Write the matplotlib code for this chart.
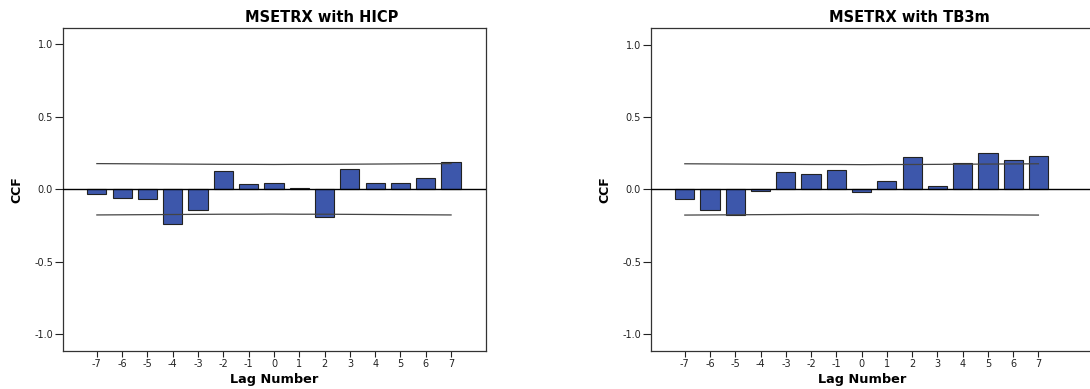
import numpy as np
import matplotlib
matplotlib.use("Agg")
import matplotlib.pyplot as plt

# lags shown on both panels
lags = list(range(-7, 8))

# cross-correlations
ccf_hicp = [-0.034, -0.057, -0.069, -0.237, -0.145, 0.126, 0.037, 0.041,
            0.009, -0.191, 0.138, 0.044, 0.041, 0.080, 0.191]
ccf_tb3m = [-0.067, -0.145, -0.175, -0.014, 0.120, 0.108, 0.133, -0.018,
            0.057, 0.223, 0.021, 0.179, 0.248, 0.202, 0.230]

# confidence limits (upper / lower) per lag
upper_limit = [0.177, 0.176, 0.175, 0.174, 0.173, 0.172, 0.172, 0.171,
               0.172, 0.172, 0.173, 0.174, 0.175, 0.176, 0.177]
lower_limit = [-u for u in upper_limit]

titles = ["MSETRX with HICP", "MSETRX with TB3m"]
yticks = [-1.0, -0.5, 0.0, 0.5, 1.0]

BAR_COLOR = "#3D57AB"

W, H = 1090, 389
fig = plt.figure(figsize=(W / 100, H / 100), dpi=100)

# axes boxes in pixels: x0, x1, y_top, y_bottom
boxes = [(62.7, 486.0, 27.7, 350.7), (650.7, 1095.0, 28.0, 350.7)]
xlims = [(-8.35, 8.38), (-8.35, 9.24)]
title_x = [322, 909]
ylabel_x = [17, 605]
xlabel_x = [274, 862]

for k, vals in enumerate([ccf_hicp, ccf_tb3m]):
    x0, x1, yt, yb = boxes[k]
    ax = fig.add_axes([x0 / W, (H - yb) / H, (x1 - x0) / W, (yb - yt) / H])

    ax.bar(lags, vals, width=0.76, color=BAR_COLOR, edgecolor="#222222",
           linewidth=0.8, zorder=2)
    ax.axhline(0, color="black", linewidth=1.0, zorder=3)
    ax.plot(lags, upper_limit, color="#444444", linewidth=0.9, zorder=4)
    ax.plot(lags, lower_limit, color="#444444", linewidth=0.9, zorder=4)

    ax.set_xlim(*xlims[k])
    ax.set_ylim(-1.113, 1.114)
    ax.set_xticks(lags)
    ax.set_xticklabels([str(v) for v in lags])
    ax.set_yticks(yticks)
    ax.set_yticklabels(["%.1f" % v for v in yticks])
    ax.tick_params(axis="y", length=6, width=0.8, labelsize=7, pad=1,
                   colors="#222222")
    ax.tick_params(axis="x", length=4, width=0.8, labelsize=7, pad=2,
                   colors="#222222")
    for s in ax.spines.values():
        s.set_linewidth(0.9)
        s.set_color("#333333")

    fig.text(title_x[k] / W, 1 - 17 / H, titles[k], ha="center", va="center",
             fontsize=10.5, fontweight="bold")
    fig.text(ylabel_x[k] / W, 1 - 190 / H, "CCF", ha="center", va="center",
             rotation=90, fontsize=9, fontweight="bold")
    fig.text(xlabel_x[k] / W, 1 - 380 / H, "Lag Number", ha="center",
             va="center", fontsize=9.3, fontweight="bold")

fig.savefig("out.png", dpi=100)
